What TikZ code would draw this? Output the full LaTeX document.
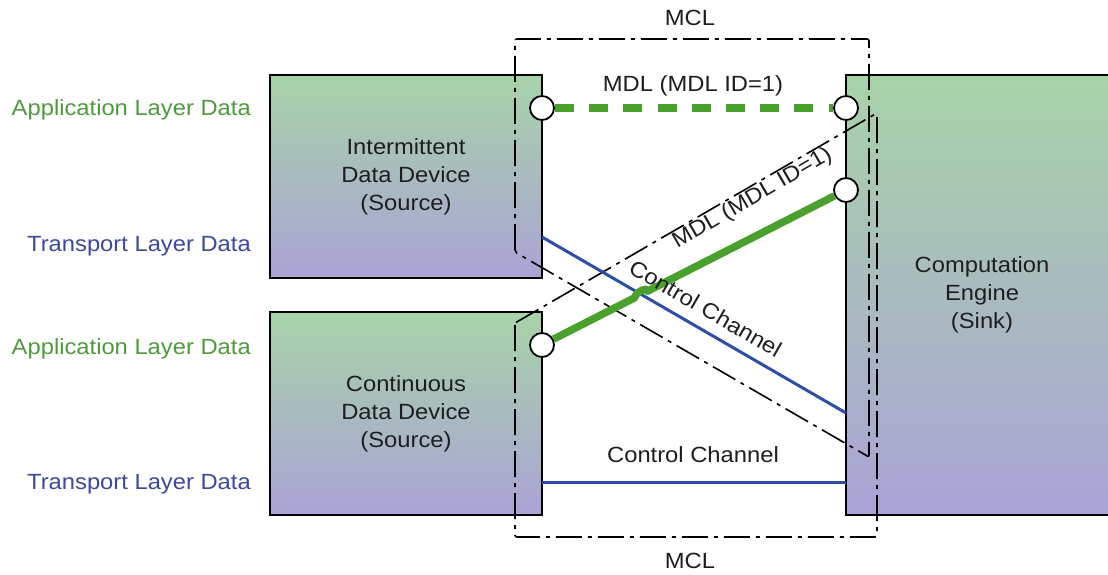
\documentclass[tikz,border=0pt]{standalone}
\usepackage{fontspec}
\setmainfont{Liberation Sans}[FakeStretch=1.08]
\usetikzlibrary{calc,intersections}
\definecolor{appgreen}{HTML}{4E9A3C}
\definecolor{linkgreen}{HTML}{4AA02C}
\definecolor{tlblue}{HTML}{3B4A9A}
\definecolor{linkblue}{HTML}{2E4DA7}
\definecolor{boxtop}{HTML}{A8D3A8}
\definecolor{boxbot}{HTML}{AAA3D6}
\definecolor{ink}{HTML}{1E1E1E}
\pgfdeclarelayer{boxes}
\pgfdeclarelayer{wires}
\pgfsetlayers{boxes,wires,main}
\begin{document}
\begin{tikzpicture}[x=1pt,y=-1pt,
  txt/.style={font=\fontsize{22}{28}\selectfont, inner sep=0pt, text=ink},
  device/.style={draw=black, line width=2.2pt, top color=boxtop, bottom color=boxbot,
                 minimum width=272pt, align=center, txt},
  port/.style={circle, draw=black, fill=white, line width=1.8pt, minimum size=24pt, inner sep=0pt},
  mcl/.style={draw=black, line width=1.6pt, dash pattern=on 26pt off 6pt on 4pt off 6pt,
              rounded corners=2pt},
  applabel/.style={txt, text=appgreen, anchor=base east},
  tllabel/.style={txt, text=tlblue, anchor=base east},
  mdl/.style={draw=linkgreen, line width=7.5pt, line join=round},
  ctrl/.style={draw=linkblue, line width=3pt}]
\useasboundingbox (0,0) rectangle (1108,575);
\clip (0,0) rectangle (1108,575);

% devices
\begin{pgfonlayer}{boxes}
  \fill[white] (0,0) rectangle (1108,575);
  \node[device, minimum height=203pt] (src1) at (406,176.5) {Intermittent\\Data Device\\(Source)};
  \node[device, minimum height=203pt] (src2) at (406,413.5) {Continuous\\Data Device\\(Source)};
  \node[device, minimum height=440pt] (sink) at (982,295) {Computation\\Engine\\(Sink)};
\end{pgfonlayer}

% ports
\node[port] (p1) at (542,108) {};
\node[port] (p2) at (846,108) {};
\node[port] (p3) at (542,345) {};
\node[port] (p4) at (846,190) {};

% MCL outlines
\coordinate (mA1) at (515,39);
\coordinate (mA2) at (869,39);
\coordinate (mA3) at (869,457);
\coordinate (mA4) at (515,252);
\coordinate (mB1) at (515,537);
\coordinate (mB2) at (877,537);
\coordinate (mB3) at (877,113);
\coordinate (mB4) at (515,323);

% control channel end points
\coordinate (c1s) at (542,237);
\coordinate (c1e) at (846,413);
\coordinate (c2s) at (542,482);
\coordinate (c2e) at (846,482);

\begin{pgfonlayer}{wires}
  \draw[mcl] (mA4) -- (mA1) -- (mA2) -- (mA3) -- cycle;
  \draw[mcl] (mB4) -- (mB1) -- (mB2) -- (mB3) -- cycle;

  \draw[ctrl, name path=ctrlA] (c1s) -- (c1e);
  \draw[ctrl] (c2s) -- (c2e);

  \draw[mdl, dash pattern=on 19pt off 15.2pt] (p1.east) -- (p2.west);

  \path[name path=mdlB] (p3) -- (p4);
  \path[name intersections={of=ctrlA and mdlB, by=hop}];
  \draw[mdl] (p3) -- ($(hop)!7pt!(p3)$) .. controls +(0,-5) and +(0,-5) .. ($(hop)!7pt!(p4)$) -- (p4);
\end{pgfonlayer}

% side labels
\node[applabel] (al1) at (251,116) {Application Layer Data};
\node[tllabel]  (tl1) at (251,251) {Transport Layer Data};
\node[applabel] (al2) at (251,354) {Application Layer Data};
\node[tllabel]  (tl2) at (251,489) {Transport Layer Data};

% link labels
\node[txt, anchor=base] (mcltop) at (690,26) {MCL};
\node[txt, anchor=base] (mdltop) at (693,92) {MDL (MDL ID=1)};
\node[txt, anchor=base] (ctrlh) at (693,462) {Control Channel};
\node[txt, anchor=base] (mclbot) at (690,568) {MCL};
\path (mB4) -- (mB3) node[txt, pos=.64, sloped, below=1pt] (mdlrot) {MDL (MDL ID=1)};
\path (c1s) -- (c1e) node[txt, pos=.505, sloped, above=12pt] (ctrlrot) {Control Channel};
\end{tikzpicture}
\end{document}
